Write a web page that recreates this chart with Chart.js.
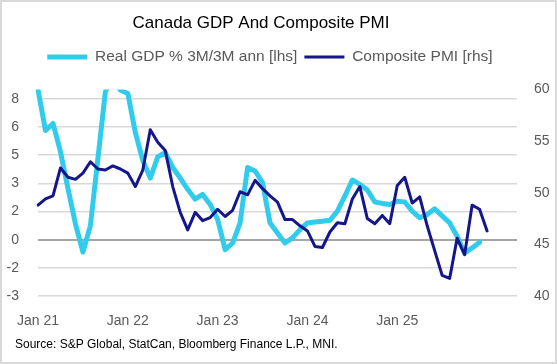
<!DOCTYPE html>
<html>
<head>
<meta charset="utf-8">
<script src="https://cdn.jsdelivr.net/npm/chart.js@4.4.1/dist/chart.umd.min.js"></script>
<style>
  html, body { margin: 0; padding: 0; background: #fff; }
  #wrap { position: relative; width: 557px; height: 364px; }
  #gdpPmiChart { display: block; }
  #frame { position: absolute; left: 0; top: 0; width: 557px; height: 364px; box-sizing: border-box; border: 2px solid #d9d9d9; pointer-events: none; }
</style>
</head>
<body>
<div id="wrap">
  <canvas id="gdpPmiChart" width="557" height="364"></canvas>
  <div id="frame"></div>
</div>
<script>
const chartTitle = 'Canada GDP And Composite PMI';
const sourceNote = 'Source: S&P Global, StatCan, Bloomberg Finance L.P., MNI.';

// monthly categories, axis runs a few months past the last print
const categories = [
  'Jan 21', 'Feb 21', 'Mar 21', 'Apr 21', 'May 21', 'Jun 21', 'Jul 21', 'Aug 21', 'Sep 21', 'Oct 21', 'Nov 21', 'Dec 21',
  'Jan 22', 'Feb 22', 'Mar 22', 'Apr 22', 'May 22', 'Jun 22', 'Jul 22', 'Aug 22', 'Sep 22', 'Oct 22', 'Nov 22', 'Dec 22',
  'Jan 23', 'Feb 23', 'Mar 23', 'Apr 23', 'May 23', 'Jun 23', 'Jul 23', 'Aug 23', 'Sep 23', 'Oct 23', 'Nov 23', 'Dec 23',
  'Jan 24', 'Feb 24', 'Mar 24', 'Apr 24', 'May 24', 'Jun 24', 'Jul 24', 'Aug 24', 'Sep 24', 'Oct 24', 'Nov 24', 'Dec 24',
  'Jan 25', 'Feb 25', 'Mar 25', 'Apr 25', 'May 25', 'Jun 25', 'Jul 25', 'Aug 25', 'Sep 25', 'Oct 25', 'Nov 25', 'Dec 25',
  'Jan 26', 'Feb 26', 'Mar 26', 'Apr 26', 'May 26'
];
const xTickLabels = ['Jan 21', 'Jan 22', 'Jan 23', 'Jan 24', 'Jan 25'];

// Real GDP % 3M/3M annualised (left axis)
const gdpValues = [
  8.5, 6.2, 6.6, 5.0, 2.9, 0.9, -0.7, 0.8, 4.6, 8.4, 9.3, 8.5,
  8.3, 6.1, 4.5, 3.5, 4.7, 4.95, 4.1, 3.5, 2.86, 2.3, 2.57, 2.0,
  1.15, -0.57, -0.19, 0.95, 4.1, 3.9, 3.24, 0.95, 0.38, -0.19, 0.1, 0.57,
  0.95, 1.0, 1.05, 1.1, 1.62, 2.48, 3.39, 3.14, 2.82, 2.14, 2.06, 2.0,
  2.19, 2.14, 1.62, 1.24, 1.43, 1.75, 1.35, 0.95, 0.19, -0.76, -0.47, -0.15
];

// S&P Global composite PMI (right axis)
const pmiValues = [
  48.8, 49.4, 49.7, 52.4, 51.5, 51.3, 51.9, 53.0, 52.3, 52.2, 52.6, 52.3,
  51.9, 50.6, 52.2, 56.1, 54.9, 54.1, 50.6, 48.1, 46.4, 48.1, 47.3, 47.6,
  48.4, 47.7, 48.3, 50.1, 49.8, 51.2, 50.4, 49.7, 49.1, 47.4, 47.4, 46.8,
  46.3, 44.8, 44.7, 46.2, 47.1, 47.0, 49.4, 50.6, 47.5, 47.0, 47.8, 47.0,
  50.7, 51.5, 49.0, 49.6, 46.8, 44.4, 42.0, 41.7, 45.6, 44.0, 48.8, 48.4,
  46.3
];

const leftTicks = [-3.2, -1.6, 0, 1.6, 3.2, 4.8, 6.4, 8.0];
const leftTickLabels = ['-3', '-2', '0', '2', '3', '5', '6', '8'];
const rightTicks = [40, 45, 50, 55, 60];

const fontFamily = '"Liberation Sans", Arial, sans-serif';
Chart.defaults.font.family = fontFamily;

// title + source line drawn straight onto the canvas
const chartText = {
  id: 'chartText',
  afterDraw(chart) {
    const ctx = chart.ctx;
    ctx.save();
    ctx.fillStyle = '#000';
    ctx.textBaseline = 'middle';
    ctx.textAlign = 'center';
    ctx.font = '17px ' + fontFamily;
    ctx.fillText(chartTitle, 261, 23);
    ctx.textAlign = 'left';
    ctx.font = '12px ' + fontFamily;
    ctx.fillText(sourceNote, 15, 345);
    ctx.restore();
  }
};

// push the plot area down a bit below the legend
const legendGap = {
  id: 'legendGap',
  beforeInit(chart) {
    const fit = chart.legend.fit;
    chart.legend.fit = function () {
      fit.call(this);
      this.height += 14.75;
    };
  }
};

const ctx = document.getElementById('gdpPmiChart').getContext('2d');
const gdpPmiChart = new Chart(ctx, {
  type: 'line',
  data: {
    labels: categories,
    datasets: [
      {
        label: 'Real GDP % 3M/3M ann [lhs]',
        data: gdpValues,
        yAxisID: 'yLeft',
        borderColor: '#31CBEB',
        backgroundColor: '#31CBEB',
        borderWidth: 5,
        borderCapStyle: 'round',
        borderJoinStyle: 'round',
        pointRadius: 0,
        tension: 0,
        order: 1
      },
      {
        label: 'Composite PMI [rhs]    ',
        data: pmiValues,
        yAxisID: 'yRight',
        borderColor: '#14168A',
        backgroundColor: '#14168A',
        borderWidth: 3,
        borderCapStyle: 'round',
        borderJoinStyle: 'round',
        pointRadius: 0,
        tension: 0,
        order: 0
      }
    ]
  },
  options: {
    responsive: false,
    animation: false,
    layout: { padding: { top: 42.25, left: 0, right: 0, bottom: 0 } },
    plugins: {
      tooltip: { enabled: false },
      legend: {
        position: 'top',
        labels: {
          usePointStyle: true,
          pointStyle: 'line',
          pointStyleWidth: 40,
          padding: 7,
          color: '#595959',
          font: { size: 15.5 },
          sort: (a, b) => a.datasetIndex - b.datasetIndex
        }
      }
    },
    scales: {
      x: {
        type: 'category',
        offset: false,
        grid: { display: false, drawTicks: false },
        border: { display: false },
        ticks: {
          autoSkip: false,
          maxRotation: 0,
          padding: 17,
          color: '#595959',
          font: { size: 14 },
          callback: function (value) {
            const lab = this.getLabelForValue(value);
            return xTickLabels.includes(lab) ? lab : '';
          }
        },
        afterFit(scale) { scale.height = 68; }
      },
      yLeft: {
        position: 'left',
        min: -3.2,
        max: 8.53,
        afterBuildTicks(scale) { scale.ticks = leftTicks.map(v => ({ value: v })); },
        afterFit(scale) { scale.width = 37; },
        grid: {
          drawTicks: false,
          color: c => (c.tick && c.tick.value === 0 ? '#a6a6a6' : '#d9d9d9'),
          lineWidth: c => (c.tick && c.tick.value === 0 ? 2 : 1.5)
        },
        border: { display: false },
        ticks: {
          padding: 19,
          color: '#595959',
          font: { size: 14 },
          callback: (v, i) => leftTickLabels[i]
        }
      },
      yRight: {
        position: 'right',
        min: 40,
        max: 60,
        afterBuildTicks(scale) { scale.ticks = rightTicks.map(v => ({ value: v })); },
        afterFit(scale) { scale.width = 40; },
        grid: { display: false, drawTicks: false },
        border: { display: false },
        ticks: {
          padding: 17,
          color: '#595959',
          font: { size: 14 },
          callback: v => String(v)
        }
      }
    }
  },
  plugins: [chartText, legendGap]
});
</script>
</body>
</html>
